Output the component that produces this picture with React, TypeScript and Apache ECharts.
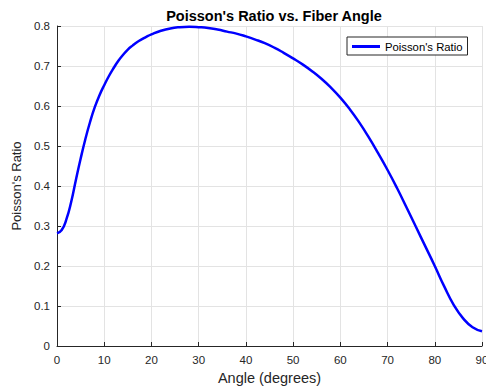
import React, { useEffect, useRef } from "react";
import * as echarts from "echarts";

const angles = [0, 1, 2, 3, 4, 5, 6, 7, 8, 9, 10, 11, 12, 13, 14, 15, 16, 17, 18, 19, 20, 22, 24, 26, 28, 30, 32, 34, 36, 38, 40, 42, 44, 46, 48, 50, 52, 54, 56, 58, 60, 62, 64, 66, 68, 70, 72, 74, 76, 78, 80, 82, 84, 86, 88, 90];
const poisson = [0.282, 0.29, 0.317, 0.36, 0.415, 0.468, 0.517, 0.56, 0.597, 0.627, 0.652, 0.675, 0.695, 0.713, 0.728, 0.741, 0.751, 0.760, 0.767, 0.7735, 0.779, 0.788, 0.794, 0.797, 0.798, 0.797, 0.795, 0.791, 0.786, 0.781, 0.774, 0.766, 0.757, 0.746, 0.733, 0.719, 0.704, 0.687, 0.668, 0.646, 0.621, 0.592, 0.559, 0.522, 0.482, 0.44, 0.395, 0.347, 0.298, 0.249, 0.2, 0.149, 0.103, 0.069, 0.047, 0.037];

const titleText = "Poisson's Ratio vs. Fiber Angle";
const seriesName = "Poisson's Ratio";
const xName = "Angle (degrees)";
const yName = "Poisson's Ratio";

export default function App() {
  const ref = useRef<HTMLDivElement>(null);
  useEffect(() => {
    document.body.style.margin = "0";
    const chart = echarts.init(ref.current!, null, { renderer: "svg" });
    const font = "'Liberation Sans', Arial, Helvetica, sans-serif";
    chart.setOption({
      animation: false,
      backgroundColor: "#ffffff",
      textStyle: { fontFamily: font },
      title: {
        text: titleText,
        left: 269,
        top: 3,
        textAlign: "center",
        textStyle: { fontSize: 14.5, fontWeight: "bold", color: "#000", fontFamily: font },
      },
      legend: {
        data: [{ name: seriesName, icon: "rect" }],
        left: 347,
        top: 37,
        orient: "vertical",
        backgroundColor: "#fff",
        borderColor: "#262626",
        borderWidth: 1,
        borderRadius: 0,
        padding: [4, 5, 3, 5],
        itemWidth: 28,
        itemHeight: 3,
        itemGap: 4,
        textStyle: { fontSize: 11.3, color: "#000", fontFamily: font },
      },
      grid: { left: 57, right: 4, top: 26, bottom: 42, containLabel: false, outerBoundsMode: "none" },
      xAxis: {
        type: "value",
        min: 0,
        max: 90,
        interval: 10,
        name: xName,
        nameLocation: "middle",
        nameGap: 24,
        nameTextStyle: { fontSize: 14.5, color: "#262626", fontFamily: font },
        axisLine: { show: true, lineStyle: { color: "#262626", width: 1 } },
        axisTick: { show: true, inside: true, length: 4, lineStyle: { color: "#262626" } },
        axisLabel: { fontSize: 11.5, color: "#262626", margin: 8, fontFamily: font, showMaxLabel: true },
        splitLine: { show: true, lineStyle: { color: "#e3e3e3", width: 1 } },
      },
      yAxis: {
        type: "value",
        min: 0,
        max: 0.8,
        interval: 0.1,
        name: yName,
        nameLocation: "middle",
        nameGap: 30,
        nameTextStyle: { fontSize: 13, color: "#262626", fontFamily: font },
        axisLine: { show: true, lineStyle: { color: "#262626", width: 1 } },
        axisTick: { show: true, inside: true, length: 4, lineStyle: { color: "#262626" } },
        axisLabel: { fontSize: 11.5, color: "#262626", margin: 7, fontFamily: font, formatter: (v: number) => (v === 0 ? "0" : v.toFixed(1)) },
        splitLine: { show: true, lineStyle: { color: "#e3e3e3", width: 1 } },
      },
      series: [
        {
          name: seriesName,
          type: "line",
          data: angles.map((a, i) => [a, poisson[i]]),
          symbol: "none",
          smooth: 0.5,
          lineStyle: { color: "#0000ff", width: 2.5 },
          itemStyle: { color: "#0000ff" },
        },
      ],
    });
    return () => chart.dispose();
  }, []);
  return <div ref={ref} style={{ width: 486, height: 388 }} />;
}
